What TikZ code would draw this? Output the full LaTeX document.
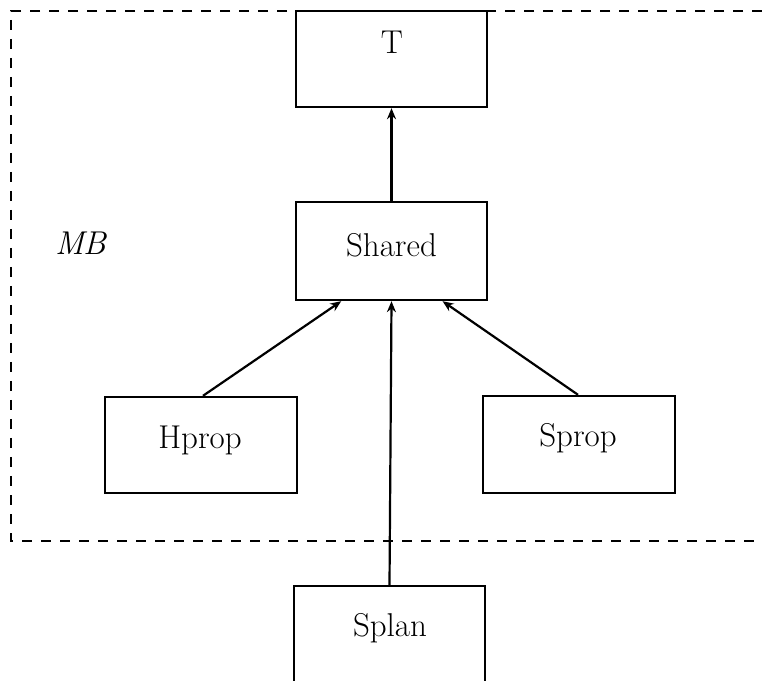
\documentclass[tikz,border=0pt]{standalone}
\usetikzlibrary{arrows.meta,calc}
\begin{document}
\begin{tikzpicture}[x=1pt,y=1pt,
  box/.style={draw,line width=2.4pt,minimum width=191pt,minimum height=96pt,inner sep=0pt},
  lbl/.style={inner sep=0pt,font=\fontsize{33}{38}\selectfont},
  conn/.style={line width=2.2pt,-{Stealth[length=11pt,width=9pt]}},
  region/.style={line width=2.4pt,dash pattern=on 10pt off 9pt}]
\useasboundingbox (0,0) rectangle (762,680);
% dashed region
\draw[region] (762,669) -- (11,669) -- (11,139) -- (762,139);
% boxes
\node[box] (T) at (391.5,621) {};
\node[box,minimum height=98pt] (Shared) at (391.5,429) {};
\node[box,minimum width=192pt] (Hprop) at (201,235) {};
\node[box,minimum width=192pt,minimum height=97pt] (Sprop) at (579,235.5) {};
\node[box,minimum height=100pt] (Splan) at (389.5,44) {};
% labels
\node[lbl] (tT) at (392,638) {T};
\node[lbl] (tShared) at (391.5,435) {Shared};
\node[lbl] (tHprop) at (200,240) {Hprop};
\node[lbl] (tSprop) at (578,242) {Sprop};
\node[lbl] (tSplan) at (390,52) {Splan};
\node[lbl] (MB) at (81,437) {\textit{M\kern-1ptB}};
% connectors
\draw[conn] (Shared.north) -- (T.south);
\draw[conn] ($(Hprop.north)+(2,0)$) -- ($(Shared.south west)!0.24!(Shared.south east)$);
\draw[conn] ($(Sprop.north)+(-1,0)$) -- ($(Shared.south west)!0.764!(Shared.south east)$);
\draw[conn] (Splan.north) -- (Shared.south);
\end{tikzpicture}
\end{document}
